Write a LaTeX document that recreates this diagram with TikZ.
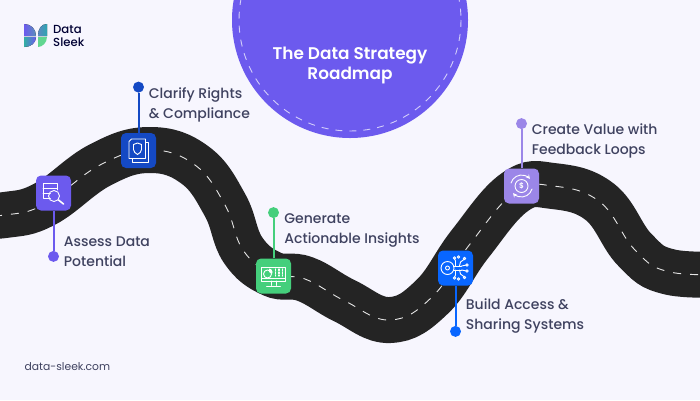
\documentclass[tikz,border=0pt]{standalone}
\usepackage{fontspec}
\setmainfont{Poppins}
\newfontfamily\poppinsmed{Poppins Medium}
\newfontfamily\poppinssemi{Poppins SemiBold}
\usepackage{xcolor}
\usetikzlibrary{shapes,arrows,positioning,calc}
\definecolor{pagebg}{HTML}{F7F6FE}
\definecolor{roadgray}{HTML}{242424}
\definecolor{labelink}{HTML}{3F4260}
\definecolor{assesspurple}{HTML}{6C5AEE}
\definecolor{clarifyblue}{HTML}{1449C4}
\definecolor{generategreen}{HTML}{45CF7C}
\definecolor{buildblue}{HTML}{0866FF}
\definecolor{createlilac}{HTML}{9B86E8}
\begin{document}
\begin{tikzpicture}[
        x=1pt, y=-1pt,
        stepbox/.style={rectangle, fill=#1, minimum size=35pt, inner sep=0pt, rounded corners=5pt},
        pindot/.style={circle, fill=#1, minimum size=11pt, inner sep=0pt},
        pinline/.style={line width=2pt, #1},
        steplabel/.style={align=left, inner sep=0pt, text=labelink, font=\poppinsmed\fontsize{14}{20}\selectfont},
        icon/.style={white, line width=0.9pt, line cap=round, line join=round},
        arrow/.style={->, >=stealth, white, line width=0.9pt}
    ]
        \fill[pagebg] (0,0) rectangle (700,400);
        \clip (0,0) rectangle (700,400);

        % road
        \def\roadpath{plot[smooth, tension=0.7] coordinates {(-40,216) (5,215) (45,204) (100,165) (150,150) (195,165) (225,205) (243,250) (272,274) (305,279) (345,301) (390,320) (432,297) (470,244) (515,192) (553,186) (600,202) (635,250) (670,272) (735,274)}}
        \draw[roadgray, line width=46pt] \roadpath;
        \draw[white!80!gray, line width=0.9pt, dash pattern=on 8pt off 9pt] \roadpath;

        % title circle
        \fill[assesspurple] (350,20) circle (118);
        \draw[white!70!assesspurple, line width=0.9pt, dash pattern=on 7pt off 7pt] (350,20) circle (111);
        \node[align=center, white, font=\poppinssemi\fontsize{16.9}{20}\selectfont] (title) at (350,65) {The Data Strategy\\Roadmap};

        % logo
        \fill[left color=assesspurple, right color=assesspurple!55!generategreen] (24,24) .. controls (31,24) and (36,29) .. (36,36) -- (24,36) -- cycle;
        \fill[left color=assesspurple!60!generategreen, right color=generategreen!60!buildblue] (47,24) .. controls (41,24) and (38,29) .. (38,36) -- (47,36) -- cycle;
        \fill[left color=generategreen!70!buildblue, right color=assesspurple] (24,37) -- (36,37) .. controls (36,43) and (31,47) .. (24,47) -- cycle;
        \fill[generategreen!85!white] (38,37) -- (47,37) .. controls (47,43) and (42,47) .. (38,47) -- cycle;
        \node[anchor=west, inner sep=0pt, align=left, text=black!80!blue, font=\poppinsmed\fontsize{11.7}{13}\selectfont] (logotext) at (53,35.5) {Data\\Sleek};

        \node[anchor=west, inner sep=0pt, text=labelink, font=\fontsize{10.75}{12}\selectfont] (site) at (24.5,367) {data-sleek.com};

        % steps
        \node[stepbox=assesspurple] (assess) at (53.5,193) {};
        \node[stepbox=clarifyblue] (clarify) at (138.5,150.5) {};
        \node[stepbox=generategreen] (generate) at (273.5,276) {};
        \node[stepbox=buildblue] (build) at (455.5,268) {};
        \node[stepbox=createlilac] (create) at (521.5,186) {};

        \node[pindot=assesspurple, below=40pt of assess] (assesspin) {};
        \node[pindot=clarifyblue, above=40pt of clarify] (clarifypin) {};
        \node[pindot=generategreen, above=40pt of generate] (generatepin) {};
        \node[pindot=buildblue, below=40pt of build] (buildpin) {};
        \node[pindot=createlilac, above=39pt of create] (createpin) {};

        \draw[pinline=assesspurple] (assess) -- (assesspin);
        \draw[pinline=clarifyblue] (clarify) -- (clarifypin);
        \draw[pinline=generategreen] (generate) -- (generatepin);
        \draw[pinline=buildblue] (build) -- (buildpin);
        \draw[pinline=createlilac] (create) -- (createpin);

        \node[steplabel, right=4.5pt of assesspin, yshift=4.5pt] (assesstext) {Assess Data\\Potential};
        \node[steplabel, right=4.5pt of clarifypin, yshift=-18pt] (clarifytext) {Clarify Rights\\\& Compliance};
        \node[steplabel, right=5pt of generatepin, yshift=-18pt] (generatetext) {Generate\\Actionable Insights};
        \node[steplabel, right=4.5pt of buildpin, yshift=15pt] (buildtext) {Build Access \&\\Sharing Systems};
        \node[steplabel, right=4.5pt of createpin, yshift=-17pt] (createtext) {Create Value with\\Feedback Loops};

        % assess icon
        \begin{scope}[shift={(assess.center)}, icon]
            \draw (-3,5) -- (-10.5,5) -- (-10.5,-10) -- (3.5,-10) -- (3.5,-3);
            \draw (-10.5,-5) -- (3.5,-5) (-10.5,0) -- (-3,0);
            \draw (0.5,3) circle (5.5);
            \draw[line width=1.6pt] (5,7) -- (10,11);
        \end{scope}
        % clarify icon
        \begin{scope}[shift={(clarify.center)}, icon]
            \draw (-7,-11.5) -- (7,-11.5) -- (7,8) -- (-9.5,8) -- (-9.5,-9) -- cycle;
            \draw (7,-8) -- (9.5,-8) -- (9.5,12) -- (-6,12) -- (-6,8);
            \draw (-5,-6) -- (-1,-7.5) -- (3,-6) -- (3,-1) .. controls (3,1) and (1,3) .. (-1,4) .. controls (-3,3) and (-5,1) .. (-5,-1) -- cycle;
        \end{scope}
        % generate icon
        \begin{scope}[shift={(generate.center)}, icon]
            \draw (-12,-9) rectangle (12,5);
            \draw (-12,2.5) -- (12,2.5);
            \draw (-2.5,5) -- (-2.5,9.5) (-7,10) -- (7,10) (2.5,5) -- (2.5,9.5);
            \draw (-6,-2) circle (4);
            \fill[white] (-4.5,-4) -- (-4.5,-7.5) arc[start angle=-90, end angle=30, radius=3.5] -- cycle;
            \draw[line width=1.3pt, dash pattern=on 1.5pt off 1.5pt] (2,-7) -- (2,0) (5.5,-7) -- (5.5,0) (9,-7) -- (9,0);
        \end{scope}
        % build icon
        \begin{scope}[shift={(build.center)}, icon]
            \draw (-8,0) circle (6.5) (-8,0) circle (2);
            \draw (-2,-2) -- (6,-2) (-2,2) -- (6,2);
            \draw (0,-2) -- (0,-7) -- (-1,-9) (4,-2) -- (5,-6) -- (9,-9) (6,-2) -- (11,-3);
            \draw (0,2) -- (0,7) -- (-1,9) (4,2) -- (5,6) -- (9,9) (6,2) -- (11,3);
            \foreach \dotx/\doty in {-1/-10,3/-11,9/-9.5,11.5/-3,11.5/3,9/9.5,3/11,-1/10}
                \draw (\dotx,\doty) circle (1.3);
        \end{scope}
        % create icon
        \begin{scope}[shift={(create.center)}, icon]
            \draw (0,0) circle (6.5);
            \node[white, inner sep=0pt, font=\poppinssemi\fontsize{7.5}{8}\selectfont] (dollar) at (0,0) {\$};
            \draw[arrow] (-10.5,-3) arc[start angle=196, end angle=320, radius=11];
            \draw[arrow] (10.5,3) arc[start angle=16, end angle=140, radius=11];
        \end{scope}
    \end{tikzpicture}
\end{document}
